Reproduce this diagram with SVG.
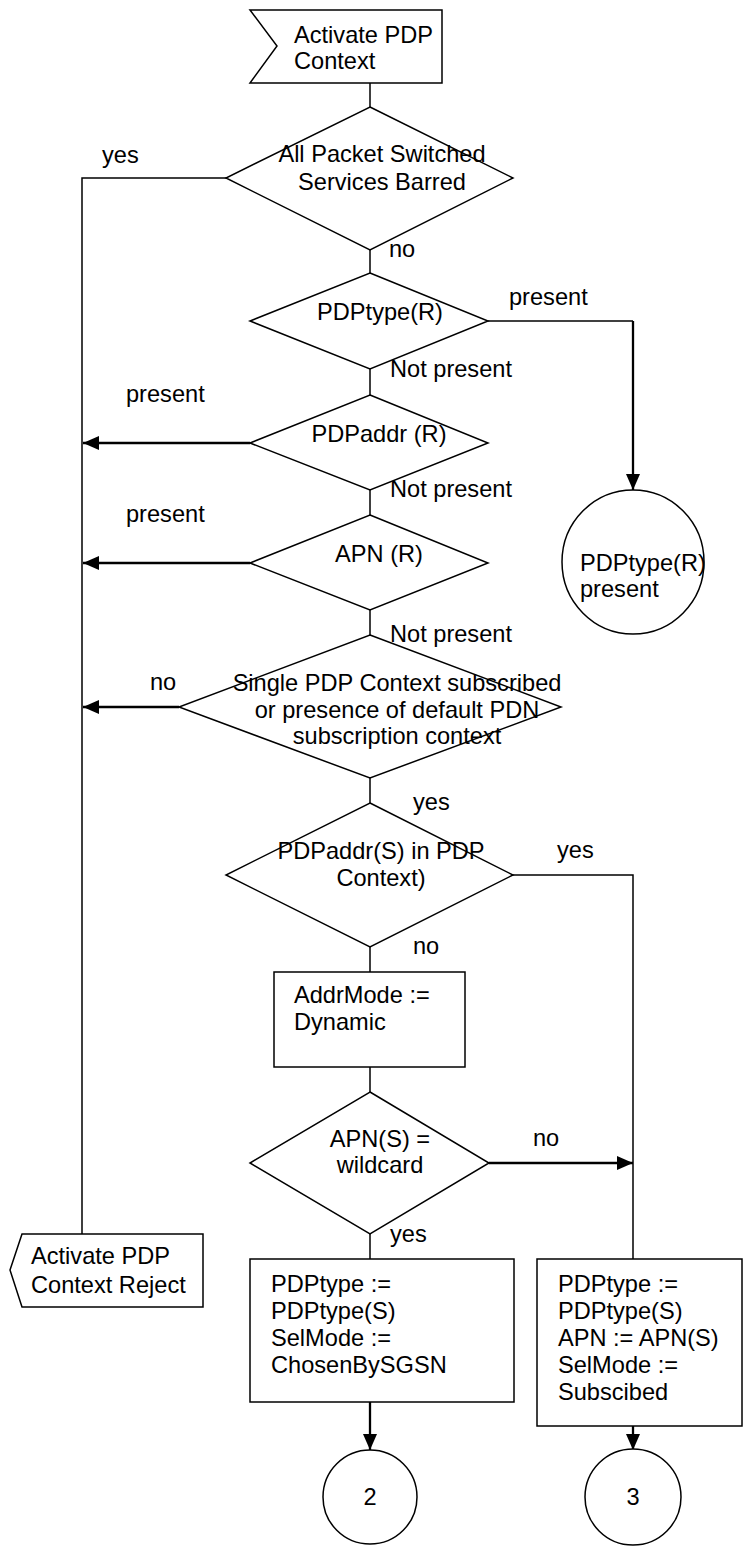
<svg xmlns="http://www.w3.org/2000/svg" width="744" height="1546" viewBox="0 0 744 1546">
<style>
  .shape { fill: #ffffff; stroke: #000000; stroke-width: 1.5; }
  .line { fill: none; stroke: #000000; stroke-width: 1.5; }
  .arrow { fill: none; stroke: #000000; stroke-width: 2.3; }
  text { font-family: "Liberation Sans", Arial, sans-serif; font-size: 23.6px; fill: #000000; }
  .c { text-anchor: middle; }
</style>
<defs>
  <marker id="ah" markerUnits="userSpaceOnUse" markerWidth="16" markerHeight="14" refX="16" refY="7" orient="auto">
    <path d="M0,0 L16,7 L0,14 Z" fill="#000000"/>
  </marker>
</defs>
<rect width="744" height="1546" fill="#ffffff"/>

<g id="connectors">
  <path class="line" d="M370,83 V107"/>
  <path class="line" d="M226,178 H82 V1234"/>
  <path class="line" d="M370,250 V273"/>
  <path class="line" d="M488,321 H633"/>
  <path class="arrow" d="M633,321 V490" marker-end="url(#ah)"/>
  <path class="line" d="M370,369 V395"/>
  <path class="arrow" d="M250,443 H83" marker-end="url(#ah)"/>
  <path class="line" d="M370,490 V515"/>
  <path class="arrow" d="M250,563 H83" marker-end="url(#ah)"/>
  <path class="line" d="M370,610 V635"/>
  <path class="arrow" d="M179,707 H83" marker-end="url(#ah)"/>
  <path class="line" d="M370,778 V803"/>
  <path class="line" d="M513,875 H633 V1259"/>
  <path class="line" d="M370,947 V972"/>
  <path class="line" d="M370,1067 V1092"/>
  <path class="arrow" d="M489,1163 H633" marker-end="url(#ah)"/>
  <path class="line" d="M370,1234 V1259"/>
  <path class="arrow" d="M370,1402 V1450" marker-end="url(#ah)"/>
  <path class="arrow" d="M633,1426 V1450" marker-end="url(#ah)"/>
  <text x="102" y="163">yes</text>
  <text x="389" y="257">no</text>
  <text x="509" y="305">present</text>
  <text x="390" y="377">Not present</text>
  <text x="126" y="402">present</text>
  <text x="390" y="497">Not present</text>
  <text x="126" y="522">present</text>
  <text x="390" y="642">Not present</text>
  <text x="150" y="690">no</text>
  <text x="413" y="810">yes</text>
  <text x="557" y="858">yes</text>
  <text x="413" y="954">no</text>
  <text x="533" y="1146">no</text>
  <text x="390" y="1242">yes</text>
</g>

<g id="start">
  <polygon class="shape" points="250,10 442,10 442,83 250,83 277,46"/>
  <text x="294" y="43">Activate PDP</text>
  <text x="294" y="69">Context</text>
</g>

<g id="d_barred">
  <polygon class="shape" points="370,107 513,178 370,250 226,178"/>
  <text class="c" x="382" y="162">All Packet Switched</text>
  <text class="c" x="382" y="190">Services Barred</text>
</g>

<g id="d_pdptype">
  <polygon class="shape" points="370,273 488,321 370,369 250,321"/>
  <text class="c" x="380" y="320">PDPtype(R)</text>
</g>

<g id="d_pdpaddr">
  <polygon class="shape" points="370,395 488,443 370,490 250,443"/>
  <text class="c" x="379" y="442">PDPaddr (R)</text>
</g>

<g id="d_apn">
  <polygon class="shape" points="370,515 488,563 370,610 250,563"/>
  <text class="c" x="379" y="562">APN (R)</text>
</g>

<g id="c_pdptype_present">
  <ellipse class="shape" cx="633" cy="562" rx="71" ry="72"/>
  <text x="580" y="571">PDPtype(R)</text>
  <text x="580" y="597">present</text>
</g>

<g id="d_single">
  <polygon class="shape" points="370,635 561,707 370,778 179,707"/>
  <text class="c" x="397" y="691">Single PDP Context subscribed</text>
  <text class="c" x="397" y="718">or presence of default PDN</text>
  <text class="c" x="397" y="744">subscription context</text>
</g>

<g id="d_pdpaddr_s">
  <polygon class="shape" points="370,803 513,875 370,947 226,875"/>
  <text class="c" x="381" y="859">PDPaddr(S) in PDP</text>
  <text class="c" x="381" y="886">Context)</text>
</g>

<g id="b_addrmode">
  <rect class="shape" x="274" y="972" width="191" height="95"/>
  <text x="294" y="1003">AddrMode :=</text>
  <text x="294" y="1030">Dynamic</text>
</g>

<g id="d_wildcard">
  <polygon class="shape" points="370,1092 489,1163 370,1234 250,1163"/>
  <text class="c" x="380" y="1147">APN(S) =</text>
  <text class="c" x="380" y="1173">wildcard</text>
</g>

<g id="reject">
  <polygon class="shape" points="22,1234 203,1234 203,1307 22,1307 10,1270"/>
  <text x="31" y="1264">Activate PDP</text>
  <text x="31" y="1293">Context Reject</text>
</g>

<g id="b_chosen">
  <rect class="shape" x="250" y="1259" width="264" height="143"/>
  <text x="271" y="1292">PDPtype :=</text>
  <text x="271" y="1319">PDPtype(S)</text>
  <text x="271" y="1346">SelMode :=</text>
  <text x="271" y="1373">ChosenBySGSN</text>
</g>

<g id="b_subscribed">
  <rect class="shape" x="537" y="1259" width="205" height="167"/>
  <text x="558" y="1292">PDPtype :=</text>
  <text x="558" y="1319">PDPtype(S)</text>
  <text x="558" y="1346">APN := APN(S)</text>
  <text x="558" y="1373">SelMode :=</text>
  <text x="558" y="1400">Subscibed</text>
</g>

<g id="c_2">
  <circle class="shape" cx="370" cy="1497" r="47"/>
  <text class="c" x="370" y="1505">2</text>
</g>

<g id="c_3">
  <circle class="shape" cx="633" cy="1497" r="48"/>
  <text class="c" x="633" y="1505">3</text>
</g>
</svg>
